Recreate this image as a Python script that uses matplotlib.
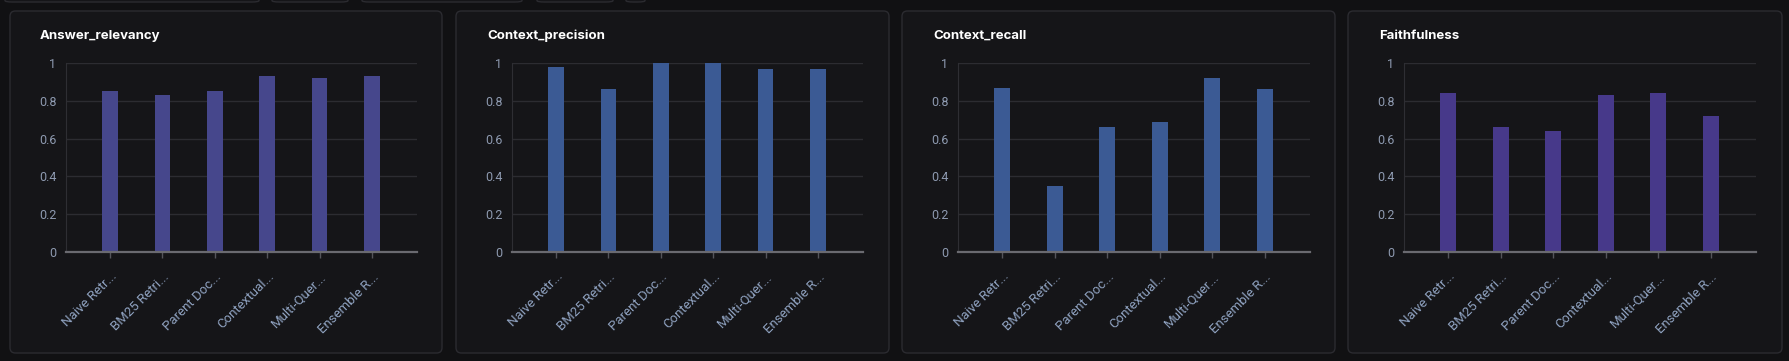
import matplotlib.pyplot as plt
from matplotlib.patches import FancyBboxPatch
import numpy as np

# data
retrievers = ["Naive Retr...", "BM25 Retri...", "Parent Doc...",
              "Contextual...", "Multi-Quer...", "Ensemble R..."]
metrics = ["Answer_relevancy", "Context_precision", "Context_recall", "Faithfulness"]
answer_relevancy = [0.85, 0.83, 0.85, 0.93, 0.92, 0.93]
context_precision = [0.98, 0.86, 1.00, 1.00, 0.97, 0.97]
context_recall = [0.87, 0.35, 0.66, 0.69, 0.92, 0.86]
faithfulness = [0.84, 0.66, 0.64, 0.83, 0.84, 0.72]
y_ticks = [0, 0.2, 0.4, 0.6, 0.8, 1]
y_tick_labels = ["0", "0.2", "0.4", "0.6", "0.8", "1"]

series = [answer_relevancy, context_precision, context_recall, faithfulness]
bar_colors = ["#46478c", "#3b5a94", "#3b5a94", "#47398a"]

W, H = 1789, 361
BG = "#111113"
CARD = "#151518"
EDGE = "#2b2b30"

plt.rcParams['font.family'] = ['Roboto', 'DejaVu Sans']

fig = plt.figure(figsize=(W / 100, H / 100), dpi=100)
fig.patch.set_facecolor(BG)


def px_box(x0, y0, x1, y1):
    # pixel coords (y from top) -> figure fraction
    return [x0 / W, 1 - y1 / H, (x1 - x0) / W, (y1 - y0) / H]


# cut-off tabs along the top edge
for tx0, tx1 in [(5, 259), (272, 348), (362, 522), (537, 613), (626, 645)]:
    l, b, w, h = px_box(tx0, -12, tx1, 2)
    fig.patches.append(FancyBboxPatch((l, b), w, h, boxstyle="round,pad=0,rounding_size=0.004",
                                      transform=fig.transFigure, facecolor=CARD,
                                      edgecolor=EDGE, linewidth=1, zorder=-10))

cards = [(10, 442), (456, 889), (902, 1335), (1348, 1782)]
axes_x = [(66, 417), (512, 863), (958, 1310), (1404, 1756)]
title_x = [40, 487, 933, 1379]

for i in range(4):
    cx0, cx1 = cards[i]
    l, b, w, h = px_box(cx0, 11, cx1, 353)
    fig.patches.append(FancyBboxPatch((l, b), w, h, boxstyle="round,pad=0,rounding_size=0.003",
                                      transform=fig.transFigure, facecolor=CARD,
                                      edgecolor=EDGE, linewidth=1, mutation_aspect=W / H,
                                      zorder=-10))

    fig.text(title_x[i] / W, 1 - 36 / H, metrics[i], color="white", fontsize=9.5,
             fontweight="bold", va="center", ha="left", family=['Inter', 'DejaVu Sans'])

    ax0, ax1 = axes_x[i]
    ax = fig.add_axes(px_box(ax0, 63, ax1, 252))
    ax.set_zorder(5)
    ax.set_facecolor(CARD)
    x = np.arange(len(retrievers))
    ax.bar(x, series[i], width=0.3, color=bar_colors[i], zorder=3)
    ax.set_xlim(-0.84, 5.86)
    ax.set_ylim(0, 1)
    ax.set_yticks(y_ticks)
    ax.set_yticklabels(y_tick_labels)
    ax.grid(axis="y", color="#2c2c31", linewidth=1, zorder=0)
    ax.set_xticks(x)
    ax.set_xticklabels(retrievers, rotation=45, ha="right", rotation_mode="anchor")
    ax.tick_params(axis="y", length=0, pad=7, labelsize=9, labelcolor="#8e9ab0")
    ax.tick_params(axis="x", length=4, width=1, color="#55555b", pad=9,
                   labelsize=9.5, labelcolor="#8fa2c0")
    for s in ["top", "right"]:
        ax.spines[s].set_visible(False)
    ax.spines["left"].set_color("#2e2e33")
    ax.spines["bottom"].set_color("#6a6a70")
    ax.spines["bottom"].set_linewidth(1.6)
    ax.spines["bottom"].set_zorder(4)

fig.savefig("out.png", dpi=100, facecolor=BG)
